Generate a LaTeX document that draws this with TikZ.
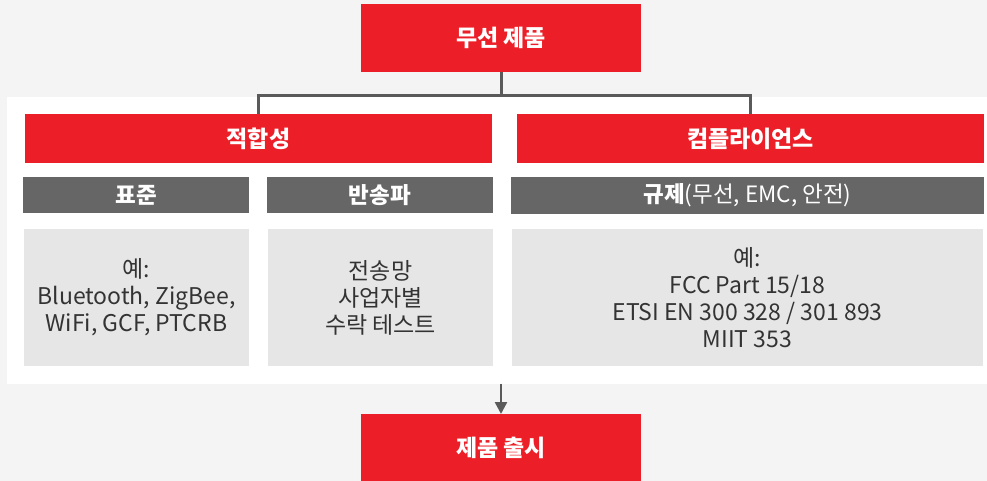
\documentclass[tikz,border=0pt]{standalone}
\usepackage{fontspec}
\setmainfont{Noto Sans CJK KR}
\usetikzlibrary{arrows.meta}
\definecolor{bgc}{HTML}{F4F4F4}
\definecolor{redc}{HTML}{EC1F28}
\definecolor{hdrc}{HTML}{666666}
\definecolor{cellc}{HTML}{E6E6E6}
\definecolor{linec}{HTML}{5A5A5A}
\definecolor{txtc}{HTML}{333333}
\begin{document}
\begin{tikzpicture}[x=1pt,y=-1pt,
  every node/.style={inner sep=0pt,outer sep=0pt,anchor=north west},
  redbox/.style={fill=redc,text=white,font=\fontsize{23}{27}\selectfont\bfseries},
  hdrbox/.style={fill=hdrc,text=white,font=\fontsize{22.5}{27}\selectfont},
  cellbox/.style={fill=cellc,text=txtc,align=center,font=\fontsize{23}{27}\selectfont},
  conn/.style={draw=linec,line width=3pt},
  arr/.style={draw=linec,line width=2.5pt,-{Triangle[width=12pt,length=12pt]}}]
\useasboundingbox[fill=bgc] (0,0) rectangle (987,481);
\node[fill=white,minimum width=980pt,minimum height=286.5pt] (panel) at (7,97) {};
\node[redbox,minimum width=280pt,minimum height=68pt] (top) at (361,4) {무선 제품};
\node[redbox,minimum width=467pt,minimum height=49pt] (compat) at (25,114) {적합성};
\node[redbox,minimum width=467pt,minimum height=49pt] (compl) at (517,114) {컴플라이언스};
\node[hdrbox,minimum width=226pt,minimum height=36pt] (std) at (23,177) {\bfseries 표준};
\node[hdrbox,minimum width=226pt,minimum height=36pt] (car) at (267,177) {\bfseries 반송파};
\node[hdrbox,minimum width=473pt,minimum height=37pt] (reg) at (511,177) {{\bfseries 규제}(무선, EMC, 안전)};
\node[cellbox,minimum width=225pt,minimum height=137pt] (stdc) at (24,229) {예:\\Bluetooth, ZigBee,\\WiFi, GCF, PTCRB};
\node[cellbox,minimum width=225pt,minimum height=137pt] (carc) at (268,229) {전송망\\사업자별\\수락 테스트};
\node[cellbox,minimum width=471pt,minimum height=137pt] (regc) at (512,229) {예:\\FCC Part 15/18\\ETSI EN 300 328 / 301 893\\MIIT 353};
\node[redbox,minimum width=280pt,minimum height=67pt] (bot) at (361,414) {제품 출시};
\draw[conn] (top.south) -- ++(0,24) -| (compat.north);
\draw[conn] (top.south) -- ++(0,24) -| (compl.north);
\draw[arr] (panel.south -| bot.north) -- (bot.north);
\end{tikzpicture}
\end{document}
